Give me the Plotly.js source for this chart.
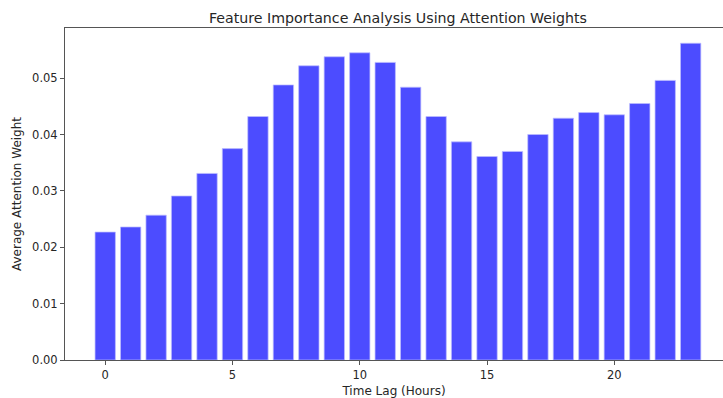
<!DOCTYPE html>
<html>
<head>
<meta charset="utf-8">
<script src="https://cdn.plot.ly/plotly-3.0.1.min.js"></script>
<style>html,body{margin:0;padding:0;background:#fff;}#chart{width:723px;height:398px;}</style>
</head>
<body>
<div id="chart"></div>
<script>
const timeLags = [0,1,2,3,4,5,6,7,8,9,10,11,12,13,14,15,16,17,18,19,20,21,22,23];
const attentionWeights = [0.0227,0.0236,0.0257,0.0291,0.0331,0.0375,0.0432,0.0488,0.0522,0.0538,0.0545,0.0528,0.0484,0.0432,0.0387,0.0361,0.0370,0.0400,0.0429,0.0439,0.0435,0.0455,0.0496,0.0562];
const xTicks = [0,5,10,15,20];
const yTicks = [0,0.01,0.02,0.03,0.04,0.05];

const font = {family: 'DejaVu Sans, sans-serif', color: '#262626'};

Plotly.newPlot('chart', [{
  type: 'bar',
  x: timeLags,
  y: attentionWeights,
  width: 0.8,
  marker: {color: 'rgba(0,0,255,0.7)', line: {color: 'rgba(190,190,255,0.9)', width: 0.8}},
  hoverinfo: 'x+y'
}], {
  width: 723, height: 398,
  margin: {l: 65, r: 0, t: 28, b: 38, pad: 0},
  paper_bgcolor: '#fff', plot_bgcolor: '#fff',
  showlegend: false,
  title: {text: 'Feature Importance Analysis Using Attention Weights', x: 0.506, xref: 'paper', xanchor: 'center', y: 0.955, yref: 'container', yanchor: 'middle', font: Object.assign({size: 14.2}, font)},
  xaxis: {
    range: [-1.58, 24.27], tickvals: xTicks, ticktext: xTicks.map(String),
    showgrid: false, zeroline: false, showline: true, linecolor: '#555', linewidth: 1, mirror: true,
    ticks: 'outside', ticklen: 4, tickcolor: '#555', tickfont: Object.assign({size: 11.5}, font),
    title: {text: 'Time Lag (Hours)', font: Object.assign({size: 12}, font), standoff: 5}
  },
  yaxis: {
    range: [0, 0.0589], tickvals: yTicks, ticktext: yTicks.map(v => v.toFixed(2)),
    showgrid: false, zeroline: false, showline: true, linecolor: '#555', linewidth: 1, mirror: false,
    ticks: 'outside', ticklen: 4, tickcolor: '#555', tickfont: Object.assign({size: 11.5}, font),
    title: {text: 'Average Attention Weight', font: Object.assign({size: 12}, font), standoff: 7}
  },
  bargap: 0.2
}, {displayModeBar: false, staticPlot: true});
</script>
</body>
</html>
